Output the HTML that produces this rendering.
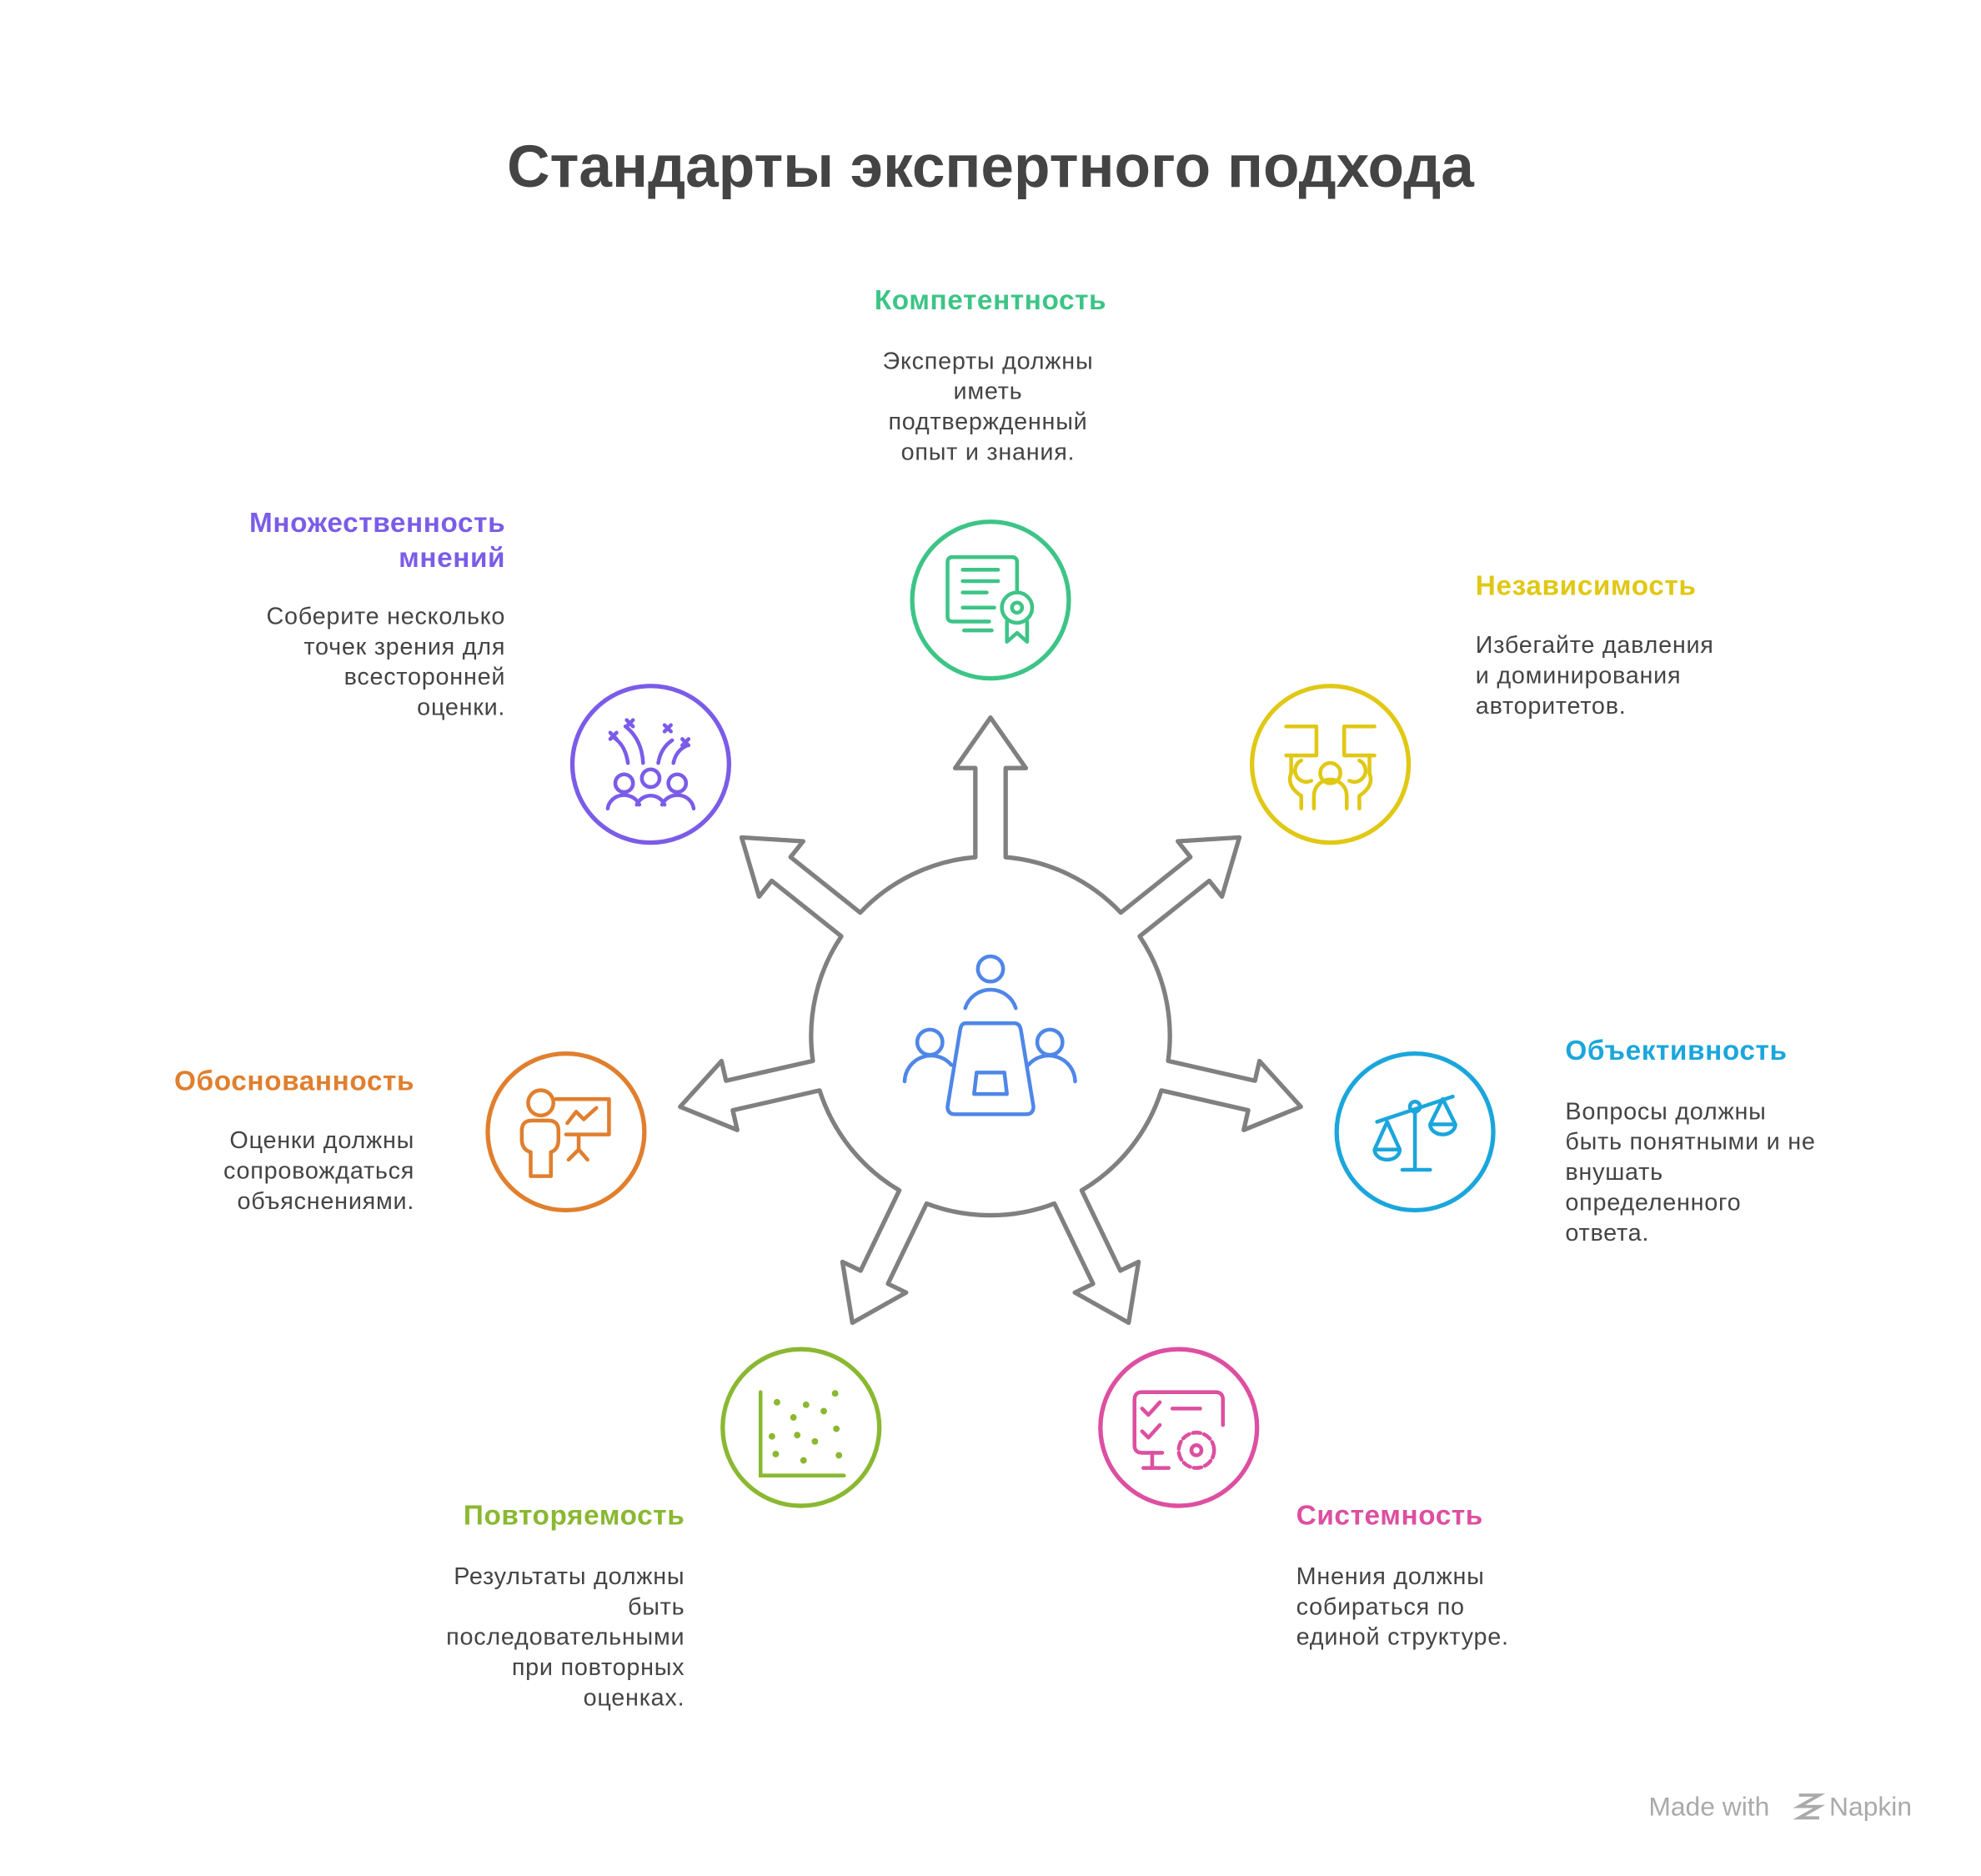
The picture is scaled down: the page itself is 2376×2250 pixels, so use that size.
<!DOCTYPE html>
<html><head><meta charset="utf-8">
<style>
html,body{margin:0;padding:0;background:#fff;}
svg{display:block;}
text{font-family:"Liberation Sans","DejaVu Sans",sans-serif;}
.t{font-weight:bold;font-size:22px;letter-spacing:0.4px;dominant-baseline:central;}
.b{font-size:19px;letter-spacing:0.5px;fill:#444;dominant-baseline:central;}
.ic{fill:none;stroke-width:3;stroke-linecap:round;stroke-linejoin:round;}
</style></head>
<body>
<svg width="2376" height="2250" viewBox="0 0 1568 1485" xmlns="http://www.w3.org/2000/svg">
<rect width="1568" height="1485" fill="#fff"/>
<text x="784" y="148" text-anchor="middle" font-size="47" font-weight="bold" fill="#444">Стандарты экспертного подхода</text>

<path id="hub" d="" fill="#fff" stroke="#808080" stroke-width="3.5" stroke-linejoin="round"/>

<g fill="#fff" stroke-width="3.5">
<circle cx="784" cy="475" r="62" stroke="#3DC486"/>
<circle cx="1053" cy="605" r="62" stroke="#E0C814"/>
<circle cx="1120" cy="896" r="62" stroke="#1BA6DB"/>
<circle cx="933" cy="1130" r="62" stroke="#DD4FA0"/>
<circle cx="634" cy="1130" r="62" stroke="#8AB832"/>
<circle cx="448" cy="896" r="62" stroke="#E07F2E"/>
<circle cx="515" cy="605" r="62" stroke="#7B5CE8"/>
</g>

<g class="ic" stroke="#4F86E8">
<circle cx="784" cy="767" r="10"/>
<path d="M764 798 A21 21 0 0 1 804 798"/>
<circle cx="736" cy="825" r="10"/>
<path d="M716 856 A21 21 0 0 1 753 843"/>
<circle cx="831" cy="825" r="10"/>
<path d="M851 856 A21 21 0 0 0 814 843"/>
<path d="M764 810 H803 Q807 810 808 815 L818 876 Q818 882 812 882 H756 Q750 882 750 876 L760 815 Q761 810 764 810 Z"/>
<path d="M773 849 H795 L797 866 H771 Z"/>
</g>

<g class="ic" stroke="#3DC486">
<path d="M805 468 V445 Q805 441 801 441 H754 Q750 441 750 445 V488 Q750 492 754 492 H783"/>
<path d="M762 451 H790 M762 460 H790 M762 469 H781 M762 481 H787 M763 499 H785"/>
<circle cx="805" cy="481" r="12"/><circle cx="805" cy="481" r="4"/>
<path d="M797 492 V508 L805 501 L813 508 V492"/>
</g>
<g class="ic" stroke="#E0C814">
<path d="M1018 575 H1042 V598 H1018 M1088 575 H1064 V598 H1088"/>
<path d="M1022 598 V612 M1084 598 V612"/>
<circle cx="1053" cy="612" r="8"/><path d="M1040 640 V630 A13 13 0 0 1 1066 630 V640"/>
<path d="M1030 602 A6 6 0 0 0 1038 618 M1076 602 A6 6 0 0 1 1068 618"/>
<path d="M1022 612 Q1018 622 1030 630 V640 M1084 612 Q1088 622 1076 630 V640"/>
</g>
<g class="ic" stroke="#1BA6DB">
<path d="M1120 880 V926 M1110 926 H1132 M1090 888 L1150 868"/>
<circle cx="1120" cy="876" r="4"/>
<path d="M1098 888 L1088 910 H1108 Z M1088 910 A10 8 0 0 0 1108 910"/>
<path d="M1142 870 L1132 890 H1152 Z M1132 890 A10 8 0 0 0 1152 890"/>
</g>
<g class="ic" stroke="#DD4FA0">
<path d="M920 1150 H904 Q898 1150 898 1144 V1108 Q898 1102 904 1102 H962 Q968 1102 968 1108 V1128"/>
<path d="M904 1115 L909 1120 L918 1110 M904 1133 L909 1138 L918 1128 M928 1115 H950"/>
<path d="M912 1150 V1162 M905 1162 H925"/>
<circle cx="947" cy="1148" r="14" stroke-dasharray="6 3"/><circle cx="947" cy="1148" r="4"/>
</g>
<g stroke="#8AB832" stroke-width="3" fill="none" stroke-linecap="round">
<path d="M602 1102 V1168 H668"/>
</g>
<g fill="#8AB832">
<circle cx="615" cy="1110" r="2.6"/><circle cx="638" cy="1112" r="2.6"/><circle cx="661" cy="1103" r="2.6"/><circle cx="652" cy="1117" r="2.6"/>
<circle cx="628" cy="1122" r="2.6"/><circle cx="611" cy="1137" r="2.6"/><circle cx="631" cy="1136" r="2.6"/><circle cx="645" cy="1141" r="2.6"/>
<circle cx="662" cy="1131" r="2.6"/><circle cx="614" cy="1151" r="2.6"/><circle cx="636" cy="1156" r="2.6"/><circle cx="664" cy="1152" r="2.6"/>
</g>
<g class="ic" stroke="#E07F2E">
<circle cx="428" cy="873" r="10"/>
<path d="M420 931 V912 Q413 910 413 902 V895 Q413 887 421 887 H434 Q442 887 442 895 V902 Q442 910 436 912 V931 Z"/>
<path d="M440 870 H482 V898 H448 M449 889 L456 880 L462 886 L472 877 M458 898 V910 L450 918 M458 910 L465 918"/>
</g>
<g class="ic" stroke="#7B5CE8">
<circle cx="494" cy="620" r="7"/><circle cx="515" cy="616" r="7"/><circle cx="536" cy="620" r="7"/>
<path d="M481 640 A13 12 0 0 1 506 637 M504 637 A12 12 0 0 1 526 637 M524 637 A13 12 0 0 1 549 640"/>
<path d="M497 604 Q495 590 486 584 M509 604 Q508 585 495 575 M521 604 Q523 592 532 586 M533 604 Q535 594 544 590"/>
<path d="M483 580 l5 5 m0 -5 l-5 5 M496 570 l5 5 m0 -5 l-5 5 M526 574 l5 5 m0 -5 l-5 5 M540 585 l5 5 m0 -5 l-5 5"/>
</g>

<text class="t" x="784" y="238" text-anchor="middle" fill="#3DC486">Компетентность</text>
<text class="b" x="782" y="286" text-anchor="middle">Эксперты должны</text>
<text class="b" x="782" y="310" text-anchor="middle">иметь</text>
<text class="b" x="782" y="334" text-anchor="middle">подтвержденный</text>
<text class="b" x="782" y="358" text-anchor="middle">опыт и знания.</text>

<text class="t" x="1168" y="464" fill="#E0C814">Независимость</text>
<text class="b" x="1168" y="511">Избегайте давления</text>
<text class="b" x="1168" y="535">и доминирования</text>
<text class="b" x="1168" y="559">авторитетов.</text>

<text class="t" x="1239" y="832" fill="#1BA6DB">Объективность</text>
<text class="b" x="1239" y="880">Вопросы должны</text>
<text class="b" x="1239" y="904">быть понятными и не</text>
<text class="b" x="1239" y="928">внушать</text>
<text class="b" x="1239" y="952">определенного</text>
<text class="b" x="1239" y="976">ответа.</text>

<text class="t" x="1026" y="1200" fill="#DD4FA0">Системность</text>
<text class="b" x="1026" y="1248">Мнения должны</text>
<text class="b" x="1026" y="1272">собираться по</text>
<text class="b" x="1026" y="1296">единой структуре.</text>

<text class="t" x="542" y="1200" text-anchor="end" fill="#8AB832">Повторяемость</text>
<text class="b" x="542" y="1248" text-anchor="end">Результаты должны</text>
<text class="b" x="542" y="1272" text-anchor="end">быть</text>
<text class="b" x="542" y="1296" text-anchor="end">последовательными</text>
<text class="b" x="542" y="1320" text-anchor="end">при повторных</text>
<text class="b" x="542" y="1344" text-anchor="end">оценках.</text>

<text class="t" x="328" y="856" text-anchor="end" fill="#E07F2E">Обоснованность</text>
<text class="b" x="328" y="903" text-anchor="end">Оценки должны</text>
<text class="b" x="328" y="927" text-anchor="end">сопровождаться</text>
<text class="b" x="328" y="951" text-anchor="end">объяснениями.</text>

<text class="t" x="400" y="414" text-anchor="end" fill="#7B5CE8">Множественность</text>
<text class="t" x="400" y="442" text-anchor="end" fill="#7B5CE8">мнений</text>
<text class="b" x="400" y="488" text-anchor="end">Соберите несколько</text>
<text class="b" x="400" y="512" text-anchor="end">точек зрения для</text>
<text class="b" x="400" y="536" text-anchor="end">всесторонней</text>
<text class="b" x="400" y="560" text-anchor="end">оценки.</text>

<text x="1305" y="1430" font-size="21" fill="#aaa" dominant-baseline="central">Made with</text>
<path d="M1424 1421 h16 l-16 9 h16 l-16 9 h16" stroke="#aaa" stroke-width="2.5" fill="none"/>
<text x="1448" y="1430" font-size="21" fill="#aaa" dominant-baseline="central">Napkin</text>
</svg>
<script>
(function(){
var cx=784,cy=820,R=142,w=12,hw=28,hb=212,tip=252,n=7,d='';
function P(a,r,o){var ux=Math.cos(a),uy=Math.sin(a);return [(cx+ux*r-uy*o).toFixed(2),(cy+uy*r+ux*o).toFixed(2)];}
for(var k=0;k<n;k++){
 var a=(-90+k*360/n)*Math.PI/180;
 var rr=Math.sqrt(R*R-w*w);
 var p1=P(a,rr,-w),p2=P(a,hb,-w),p3=P(a,hb,-hw),p4=P(a,tip,0),p5=P(a,hb,hw),p6=P(a,hb,w),p7=P(a,rr,w);
 var an=(-90+(k+1)*360/n)*Math.PI/180;
 var p8=P(an,rr,-w);
 d+=(k==0?'M':'L')+p1+' L'+p2+' L'+p3+' L'+p4+' L'+p5+' L'+p6+' L'+p7+' A'+R+' '+R+' 0 0 1 '+p8+' ';
}
d+='Z';
document.getElementById('hub').setAttribute('d',d);
})();
</script>
</body></html>
